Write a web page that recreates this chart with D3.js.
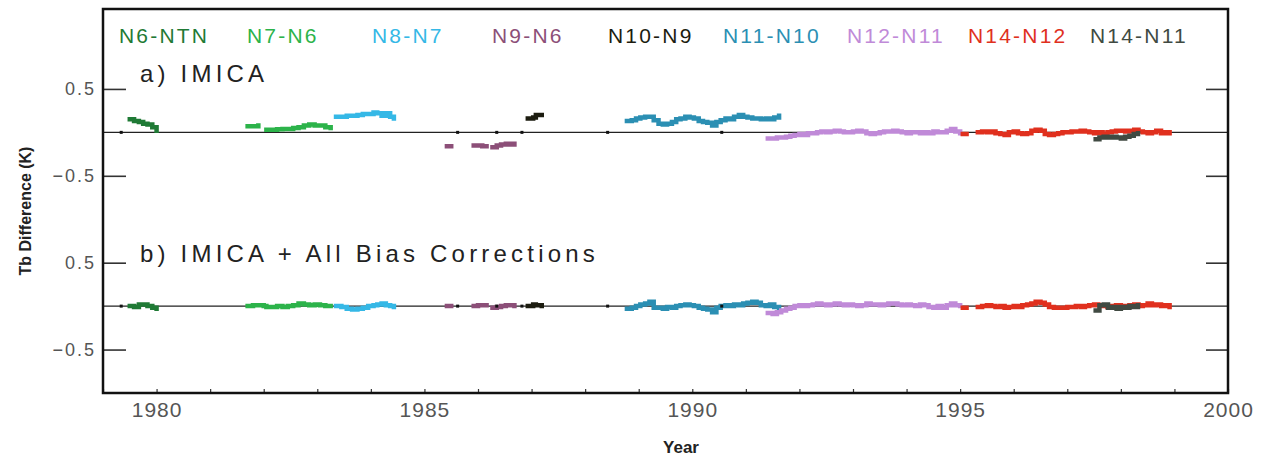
<!DOCTYPE html>
<html>
<head>
<meta charset="utf-8">
<script src="https://cdn.jsdelivr.net/npm/d3@7"></script>
<style>
  body { margin: 0; background: #fff; }
  svg { display: block; font-family: "Liberation Sans", Arial, sans-serif; }
</style>
</head>
<body>
<div id="chart"></div>
<script>
/* Tb differences between overlapping satellites, before (a) and after (b) bias corrections */

const names = ["N6-NTN", "N7-N6", "N8-N7", "N9-N6", "N10-N9", "N11-N10", "N12-N11", "N14-N12", "N14-N11"];
const colors = ["#1f7a35", "#2cb34a", "#35b8e6", "#8c4f78", "#1c1c10", "#2b8fb3", "#c08ad8", "#e0301e", "#404a42"];

// N6-NTN
const yrsN6 = [1979.50, 1979.58, 1979.67, 1979.75, 1979.83, 1979.92, 1980.00];
const aN6 = [0.15, 0.13, 0.12, 0.10, 0.09, 0.06, 0.02];
const bN6 = [0.00, -0.01, 0.02, 0.02, 0.00, -0.02, -0.03];

// N7-N6
const yrsN7 = [1981.70, 1981.80, 1981.90, 1982.00, 1982.05, 1982.15, 1982.25, 1982.35, 1982.45, 1982.55, 1982.65, 1982.75, 1982.85, 1982.95, 1983.05, 1983.15, 1983.25];
const aN7 = [0.07, 0.07, 0.08, null, 0.03, 0.03, 0.035, 0.04, 0.04, 0.05, 0.06, 0.08, 0.09, 0.08, 0.08, 0.06, 0.05];
const bN7 = [0.00, 0.01, 0.01, 0.00, -0.01, -0.01, 0.00, -0.01, 0.00, 0.01, 0.03, 0.02, 0.01, 0.02, 0.01, 0.00, 0.00];

// N8-N7
const yrsN8 = [1983.35, 1983.45, 1983.55, 1983.65, 1983.75, 1983.85, 1983.95, 1984.05, 1984.12, 1984.20, 1984.28, 1984.36, 1984.43];
const aN8 = [0.18, 0.18, 0.19, 0.19, 0.20, 0.21, 0.21, 0.23, 0.22, 0.19, 0.22, 0.18, 0.16];
const bN8 = [0.00, -0.01, -0.03, -0.04, -0.03, -0.02, 0.00, 0.01, 0.02, 0.03, 0.01, 0.00, -0.01];

// N9-N6
const yrsN9 = [1985.42, 1985.50, 1985.51, 1985.92, 1986.00, 1986.08, 1986.16, 1986.20, 1986.27, 1986.35, 1986.43, 1986.52, 1986.60, 1986.68];
const aN9 = [-0.16, -0.16, null, -0.15, -0.15, -0.16, -0.16, null, -0.17, -0.15, -0.14, -0.13, -0.14, -0.13];
const bN9 = [0.00, 0.00, null, 0.00, 0.01, 0.01, 0.01, null, -0.02, -0.01, 0.00, 0.01, 0.01, 0.00];

// N10-N9
const yrsN10 = [1986.93, 1987.03, 1987.08, 1987.19];
const aN10 = [0.16, 0.17, 0.20, 0.20];
const bN10 = [0.00, 0.02, 0.01, 0.00];

// N11-N10
const yrsN11 = [1988.78, 1988.87, 1988.95, 1989.03, 1989.12, 1989.20, 1989.28, 1989.37, 1989.45, 1989.53, 1989.62, 1989.70,
  1989.78, 1989.87, 1989.95, 1990.03, 1990.12, 1990.20, 1990.28, 1990.37, 1990.45, 1990.53, 1990.62, 1990.70,
  1990.78, 1990.87, 1990.95, 1991.03, 1991.12, 1991.20, 1991.28, 1991.37, 1991.45, 1991.53, 1991.62];
const aN11 = [0.13, 0.14, 0.16, 0.17, 0.18, 0.18, 0.14, 0.10, 0.09, 0.10, 0.12, 0.15,
  0.16, 0.18, 0.17, 0.16, 0.13, 0.12, 0.11, 0.08, 0.12, 0.14, 0.16, 0.15,
  0.18, 0.20, 0.18, 0.17, 0.16, 0.16, 0.15, 0.16, 0.15, 0.17, 0.19];
const bN11 = [-0.03, -0.02, 0.00, 0.02, 0.03, 0.05, -0.02, -0.02, -0.03, -0.01, -0.02, 0.00,
  0.01, 0.02, 0.01, 0.00, -0.02, -0.03, -0.04, -0.07, -0.02, 0.00, 0.01, 0.00,
  0.02, 0.01, 0.03, 0.04, 0.05, 0.04, 0.01, 0.00, 0.02, -0.01, -0.02];

// N12-N11
const yrsN12 = [1991.41, 1991.50, 1991.58, 1991.66, 1991.75, 1991.83, 1991.91,
  1992.00, 1992.08, 1992.16, 1992.25, 1992.33, 1992.41, 1992.50, 1992.58, 1992.66, 1992.75, 1992.83, 1992.91,
  1993.00, 1993.08, 1993.16, 1993.25, 1993.33, 1993.41, 1993.50, 1993.58, 1993.66, 1993.75, 1993.83, 1993.91,
  1994.00, 1994.08, 1994.16, 1994.25, 1994.33, 1994.41, 1994.50, 1994.58, 1994.66, 1994.75, 1994.83, 1994.91,
  1995.00];
const aN12 = [-0.07, -0.07, -0.06, -0.06, -0.05, -0.04, -0.03,
  -0.02, -0.03, -0.01, -0.01, 0.00, 0.01, 0.00, 0.01, 0.02, 0.01, 0.00, 0.00,
  0.01, 0.02, 0.01, -0.01, -0.02, -0.01, 0.00, 0.01, 0.01, 0.02, 0.01, 0.00,
  -0.01, 0.00, 0.00, -0.01, 0.00, -0.01, 0.01, 0.00, 0.00, 0.02, 0.04, 0.01,
  -0.01];
const bN12 = [-0.08, -0.09, -0.07, -0.05, -0.03, -0.02, 0.00,
  0.01, 0.00, 0.01, 0.02, 0.03, 0.02, 0.01, 0.02, 0.03, 0.02, 0.01, 0.02,
  0.01, 0.00, 0.01, 0.03, 0.02, 0.02, 0.01, 0.02, 0.03, 0.03, 0.02, 0.01,
  0.02, 0.01, 0.00, 0.02, 0.01, -0.01, -0.02, 0.00, -0.02, 0.01, 0.03, 0.01,
  0.00];

// N14-N12
const yrsN14 = [1995.05, 1995.12, 1995.20, 1995.33, 1995.41, 1995.50, 1995.58, 1995.66, 1995.75, 1995.83, 1995.91,
  1996.00, 1996.08, 1996.16, 1996.25, 1996.33, 1996.41, 1996.50, 1996.58, 1996.66, 1996.75, 1996.83, 1996.91,
  1997.00, 1997.08, 1997.16, 1997.25, 1997.33, 1997.41, 1997.50, 1997.58, 1997.66, 1997.75, 1997.83, 1997.91,
  1998.00, 1998.08, 1998.16, 1998.25, 1998.33, 1998.41, 1998.50, 1998.58, 1998.66, 1998.75, 1998.83, 1998.91];
const aN14 = [-0.02, -0.02, null, 0.00, 0.01, 0.00, 0.01, -0.01, -0.02, -0.03, 0.00,
  0.01, -0.01, -0.02, -0.01, 0.02, 0.03, 0.02, -0.02, -0.03, -0.02, -0.01, 0.00,
  0.00, 0.01, 0.01, 0.02, 0.01, 0.00, -0.01, 0.00, -0.02, 0.00, 0.01, 0.02,
  0.02, 0.01, 0.02, 0.03, 0.01, 0.00, -0.01, 0.00, 0.02, -0.01, 0.00, -0.01];
const bN14 = [-0.02, -0.02, null, -0.01, 0.00, 0.01, 0.00, -0.01, 0.00, -0.02, -0.01,
  0.00, -0.01, 0.01, 0.02, 0.03, 0.05, 0.04, 0.02, -0.01, -0.02, -0.02, -0.02,
  -0.01, -0.01, 0.00, -0.01, 0.00, 0.01, 0.02, 0.01, 0.00, -0.01, 0.00, 0.01,
  -0.01, 0.00, 0.01, 0.02, 0.00, 0.01, 0.03, 0.01, 0.02, 0.00, 0.01, -0.01];

// N14-N11
const yrsN1411 = [1997.53, 1997.60, 1997.68, 1997.76, 1997.84, 1997.92, 1998.00, 1998.08, 1998.16, 1998.24, 1998.32];
const aN1411 = [-0.08, -0.06, -0.05, -0.06, -0.05, -0.06, -0.07, -0.05, -0.04, -0.02, -0.01];
const bN1411 = [-0.05, 0.01, 0.02, -0.02, -0.01, -0.03, -0.01, -0.02, 0.00, -0.01, 0.01];

// lone single-month points sitting on the zero lines
const zeroMarks = [1979.34, 1985.62, 1986.35, 1986.82, 1988.42, 1990.55];

const yTickVals = [-0.5, 0.5];
const yTickLabels = ["\u22120.5", "0.5"];
const xMajor = [1980, 1985, 1990, 1995, 2000];

const allYears = [yrsN6, yrsN7, yrsN8, yrsN9, yrsN10, yrsN11, yrsN12, yrsN14, yrsN1411];
const allA = [aN6, aN7, aN8, aN9, aN10, aN11, aN12, aN14, aN1411];
const allB = [bN6, bN7, bN8, bN9, bN10, bN11, bN12, bN14, bN1411];

const series = names.map((n, i) => ({
    name: n,
    color: colors[i],
    a: allYears[i].map((t, j) => ({ t: t, v: allA[i][j] })),
    b: allYears[i].map((t, j) => ({ t: t, v: allB[i][j] }))
}));

const width = 1265,
      height = 458,
      margin = ({ top: 9, right: 37, bottom: 65, left: 103 });

const svg = d3.select("#chart")
    .append("svg")
    .attr("width", width)
    .attr("height", height);

const x = d3.scaleLinear()
    .domain([1979, 2000])
    .range([margin.left, width - margin.right]);

// one shared axis; panel a is lifted by 2 K
const y = d3.scaleLinear()
    .domain([-1, 3.42])
    .range([height - margin.bottom, margin.top]);

const panels = [
    { key: "a", shift: 2, title: "a) IMICA", titleY: 82 },
    { key: "b", shift: 0, title: "b) IMICA + All Bias Corrections", titleY: 262 }
];

const tickVals = [], tickLab = {};
panels.forEach(p => yTickVals.forEach((v, i) => {
    tickVals.push(v + p.shift);
    tickLab[(v + p.shift).toFixed(2)] = yTickLabels[i];
}));

// left axis, ticks pointing in
svg.append("g")
    .attr("transform", `translate(${margin.left},0)`)
    .call(d3.axisLeft(y).tickValues(tickVals).tickSize(-23).tickPadding(7)
        .tickFormat(d => tickLab[d.toFixed(2)]))
    .call(g => g.select(".domain").remove())
    .call(g => g.selectAll("line").attr("stroke", "#333").attr("stroke-width", 1.6))
    .call(g => g.selectAll("text").attr("fill", "#555").attr("font-size", 18)
        .attr("letter-spacing", 2).attr("font-family", "Liberation Sans, Arial, sans-serif"));

// right axis
svg.append("g")
    .attr("transform", `translate(${width - margin.right},0)`)
    .call(d3.axisRight(y).tickValues(tickVals).tickSize(-22).tickFormat(""))
    .call(g => g.select(".domain").remove())
    .call(g => g.selectAll("line").attr("stroke", "#333").attr("stroke-width", 1.6));

// bottom axis, yearly minor ticks
svg.append("g")
    .attr("transform", `translate(0,${height - margin.bottom})`)
    .call(d3.axisBottom(x).tickValues(d3.range(1979, 2001)).tickSize(-4).tickPadding(9)
        .tickFormat(d => xMajor.includes(d) ? d : ""))
    .call(g => g.select(".domain").remove())
    .call(g => g.selectAll("line").attr("stroke", "#333").attr("stroke-width", 1.2))
    .call(g => g.selectAll("text").attr("fill", "#555").attr("font-size", 21)
        .attr("letter-spacing", 1).attr("font-family", "Liberation Sans, Arial, sans-serif"));

// zero lines
svg.selectAll(".zero")
    .data(panels)
    .join("line")
    .attr("class", "zero")
    .attr("x1", x(1979)).attr("x2", x(2000))
    .attr("y1", p => y(p.shift)).attr("y2", p => y(p.shift))
    .attr("stroke", "#222")
    .attr("stroke-width", 1.3);

const line = d3.line()
    .defined(d => d.v != null)
    .x(d => x(d.t))
    .curve(d3.curveStepAfter);

panels.forEach(p => {
    line.y(d => y(d.v + p.shift));
    svg.append("g")
        .selectAll("path")
        .data(series)
        .join("path")
        .attr("d", s => line(s[p.key]))
        .attr("fill", "none")
        .attr("stroke", s => s.color)
        .attr("stroke-width", 4.5)
        .attr("stroke-linecap", "square");

    svg.append("g")
        .selectAll("rect")
        .data(zeroMarks)
        .join("rect")
        .attr("x", d => x(d) - 1.5)
        .attr("y", y(p.shift) - 1.5)
        .attr("width", 3)
        .attr("height", 3)
        .attr("fill", "#111");

    svg.append("text")
        .attr("x", 140)
        .attr("y", p.titleY)
        .attr("font-size", 24)
        .attr("letter-spacing", 4.2)
        .attr("fill", "#222")
        .text(p.title);
});

// legend row of coloured names
const legendX = [119, 247, 372, 492, 608, 723, 847, 968, 1090];
svg.append("g")
    .selectAll("text")
    .data(series)
    .join("text")
    .attr("x", (d, i) => legendX[i])
    .attr("y", 43)
    .attr("font-size", 21)
    .attr("letter-spacing", 2.2)
    .attr("fill", d => d.color)
    .text(d => d.name);

// frame
svg.append("rect")
    .attr("x", margin.left)
    .attr("y", margin.top)
    .attr("width", width - margin.left - margin.right)
    .attr("height", height - margin.top - margin.bottom)
    .attr("fill", "none")
    .attr("stroke", "#111")
    .attr("stroke-width", 2.5);

svg.append("text")
    .attr("transform", `translate(31,${(margin.top + height - margin.bottom) / 2 + 10}) rotate(-90)`)
    .attr("text-anchor", "middle")
    .attr("font-family", "Arial, Liberation Sans, sans-serif")
    .attr("font-weight", "bold")
    .attr("font-size", 16)
    .attr("fill", "#222")
    .text("Tb Difference (K)");

svg.append("text")
    .attr("x", 681)
    .attr("y", 453)
    .attr("text-anchor", "middle")
    .attr("font-weight", "bold")
    .attr("font-size", 17)
    .attr("fill", "#222")
    .text("Year");
</script>
</body>
</html>
